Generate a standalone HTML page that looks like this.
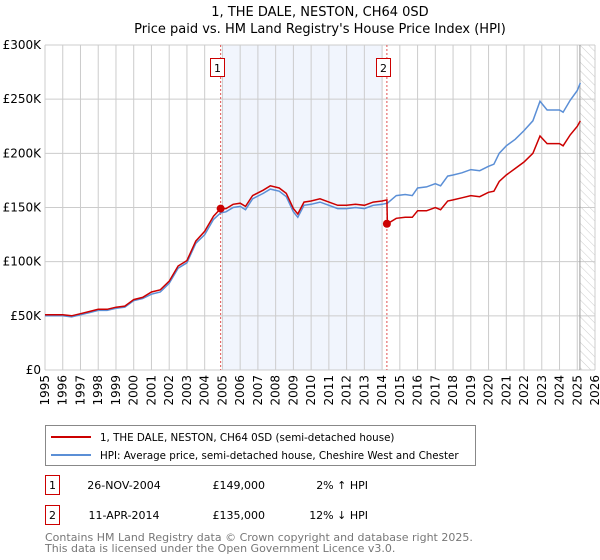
<!DOCTYPE html>
<html><head><meta charset="utf-8"><style>
body{margin:0;background:#fff;font-family:"DejaVu Sans","Liberation Sans",sans-serif;}
svg{display:block}
</style></head><body>
<svg width="600" height="560" xmlns="http://www.w3.org/2000/svg" id="chart">
<text x="320" y="16" text-anchor="middle" font-size="13">1, THE DALE, NESTON, CH64 0SD</text>
<text x="320" y="33" text-anchor="middle" font-size="13">Price paid vs. HM Land Registry's House Price Index (HPI)</text>
<g id="grid"></g>
<g id="series"></g>
<g id="legend">
<rect x="45.5" y="425.5" width="430" height="40" fill="#fff" stroke="#888"/>
<line x1="51" y1="437" x2="91" y2="437" stroke="#cc0000" stroke-width="2"/>
<text x="100" y="441" font-size="10.3">1, THE DALE, NESTON, CH64 0SD (semi-detached house)</text>
<line x1="51" y1="455" x2="91" y2="455" stroke="#5b8fd6" stroke-width="2"/>
<text x="100" y="459" font-size="10.3">HPI: Average price, semi-detached house, Cheshire West and Chester</text>
</g>
<g font-size="11">
<rect x="45.5" y="475.5" width="14" height="19" fill="#fff" stroke="#cc0000"/>
<text x="52.5" y="489" text-anchor="middle">1</text>
<text x="124" y="489" text-anchor="middle">26-NOV-2004</text>
<text x="265" y="489" text-anchor="end">£149,000</text>
<text x="368" y="489" text-anchor="end">2% ↑ HPI</text>
<rect x="45.5" y="505.5" width="14" height="19" fill="#fff" stroke="#cc0000"/>
<text x="52.5" y="519" text-anchor="middle">2</text>
<text x="124" y="519" text-anchor="middle">11-APR-2014</text>
<text x="265" y="519" text-anchor="end">£135,000</text>
<text x="368" y="519" text-anchor="end">12% ↓ HPI</text>
</g>
<text x="45" y="541" font-size="11" fill="#777">Contains HM Land Registry data © Crown copyright and database right 2025.</text>
<text x="45" y="552" font-size="11" fill="#777">This data is licensed under the Open Government Licence v3.0.</text>
</svg>
<script>
const hpiYears=[1995,1995.5,1996,1996.5,1997,1997.5,1998,1998.5,1999,1999.5,2000,2000.5,2001,2001.5,2002,2002.5,2003,2003.5,2004,2004.5,2004.9,2005.2,2005.6,2006,2006.3,2006.7,2007.3,2007.7,2008.2,2008.6,2009,2009.25,2009.6,2010,2010.5,2011,2011.5,2012,2012.5,2013,2013.5,2014,2014.3,2014.8,2015.3,2015.7,2016,2016.5,2017,2017.3,2017.7,2018,2018.5,2019,2019.5,2020,2020.3,2020.6,2021,2021.5,2022,2022.5,2022.9,2023.3,2023.7,2024,2024.2,2024.6,2025,2025.17];
const hpiValues=[50,50,50,49,51,53,55,55,57,58,64,66,70,72,80,94,99,117,125,139,145,146,150,151,148,158,163,167,165,160,146,141,152,153,155,152,149,149,150,149,152,153,154,161,162,161,168,169,172,170,179,180,182,185,184,188,190,200,207,213,221,230,248,240,240,240,238,249,258,265];
const priceYears=[1995,1995.5,1996,1996.5,1997,1997.5,1998,1998.5,1999,1999.5,2000,2000.5,2001,2001.5,2002,2002.5,2003,2003.5,2004,2004.5,2004.9,2005.2,2005.6,2006,2006.3,2006.7,2007.3,2007.7,2008.2,2008.6,2009,2009.25,2009.6,2010,2010.5,2011,2011.5,2012,2012.5,2013,2013.5,2014,2014.27,2014.3,2014.8,2015.3,2015.7,2016,2016.5,2017,2017.3,2017.7,2018,2018.5,2019,2019.5,2020,2020.3,2020.6,2021,2021.5,2022,2022.5,2022.9,2023.3,2023.7,2024,2024.2,2024.6,2025,2025.17];
const priceValues=[51,51,51,50,52,54,56,56,58,59,65,67,72,74,82,96,101,119,128,142,149,149,153,154,151,161,166,170,168,163,149,144,155,156,158,155,152,152,153,152,155,156,157,135,140,141,141,147,147,150,148,156,157,159,161,160,164,165,174,180,186,192,200,216,209,209,209,207,217,225,230];
const sales=[{y:2004.9,v:149},{y:2014.27,v:135}];
const yTicks=[0,50,100,150,200,250,300];
const yTickLabels=["£0","£50K","£100K","£150K","£200K","£250K","£300K"];
const xTicks=[1995,1996,1997,1998,1999,2000,2001,2002,2003,2004,2005,2006,2007,2008,2009,2010,2011,2012,2013,2014,2015,2016,2017,2018,2019,2020,2021,2022,2023,2024,2025,2026];

const L=45,R=595,T=45,B=370;
const xs=y=>L+(y-1995)/(2026-1995)*(R-L);
const ys=v=>B-v/300*(B-T);
const NS="http://www.w3.org/2000/svg";
function mk(tag,attrs,parent){const e=document.createElementNS(NS,tag);for(const k in attrs)e.setAttribute(k,attrs[k]);parent.appendChild(e);return e;}
const g=document.getElementById('grid'), s=document.getElementById('series');

let sh=mk('rect',{x:xs(2004.98),y:T,width:xs(2013.98)-xs(2004.98),height:B-T,fill:'#eef3fd',opacity:0.8},g);


let defs=mk('defs',{},g);
let pat=mk('pattern',{id:'hatch',width:6,height:6,patternUnits:'userSpaceOnUse',patternTransform:'rotate(-45)'},defs);
mk('line',{x1:0,y1:0,x2:0,y2:6,stroke:'#ccc','stroke-width':1},pat);
let ht=mk('rect',{x:xs(2025.15),y:T,width:R-xs(2025.15),height:B-T,fill:'url(#hatch)'},g);



xTicks.forEach(y=>{
 let l=mk('line',{x1:xs(y),y1:T,x2:xs(y),y2:B,stroke:'#ccc','stroke-width':1},g);
 
 
 let t=mk('text',{x:0,y:0,'font-size':12,'text-anchor':'end',transform:`translate(${xs(y)+4},${B+5}) rotate(-90)`},g);
 t.textContent=y;
 
 
});
yTicks.forEach((v,i)=>{
 let l=mk('line',{x1:L,y1:ys(v),x2:R,y2:ys(v),stroke:'#ccc','stroke-width':1},g);
 
 
 let t=mk('text',{x:L-4,y:ys(v)+4,'font-size':12,'text-anchor':'end'},g);
 t.textContent=yTickLabels[i];
 
 
});
let vl=mk('line',{x1:xs(2025.15),y1:T,x2:xs(2025.15),y2:B,stroke:'#999','stroke-width':1},g);



sales.forEach((sa,i)=>{
 let l=mk('line',{x1:xs(sa.y),y1:T,x2:xs(sa.y),y2:B,stroke:'#e05050','stroke-width':1,'stroke-dasharray':'2,2'},g);
 
 
 let r=mk('rect',{x:Math.round(xs(sa.y))-10.5,y:58.5,width:14,height:18,fill:'#fff',stroke:'#cc0000'},g);
 
 
 let t=mk('text',{x:Math.round(xs(sa.y))-3.5,y:72,'font-size':11,'text-anchor':'middle'},g);
 t.textContent=String(i+1);
 
 
});

const pts=(xa,va)=>xa.map((y,i)=>xs(y).toFixed(1)+','+ys(va[i]).toFixed(1)).join(' ');
let hp=mk('polyline',{points:pts(hpiYears,hpiValues),fill:'none',stroke:'#5b8fd6','stroke-width':1.5},s);


let pp=mk('polyline',{points:pts(priceYears,priceValues),fill:'none',stroke:'#cc0000','stroke-width':1.5},s);


sales.forEach((sa,i)=>{
 let c=mk('circle',{cx:xs(sa.y),cy:ys(sa.v),r:4,fill:'#cc0000'},s);
 
 
});
</script>
</body></html>
